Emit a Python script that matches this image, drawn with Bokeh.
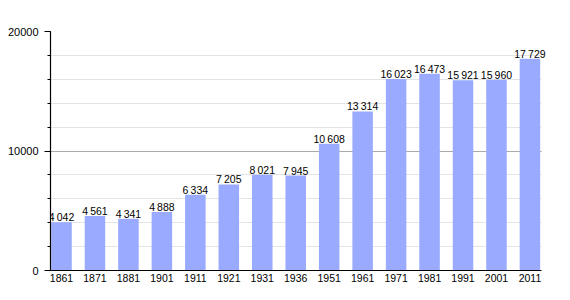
from bokeh.plotting import figure
from bokeh.models import ColumnDataSource, Range1d, FixedTicker, SingleIntervalTicker, LabelSet, Grid
from bokeh.core.properties import value
from bokeh.embed import file_html
from bokeh.resources import INLINE

years = ["1861", "1871", "1881", "1901", "1911", "1921", "1931", "1936",
         "1951", "1961", "1971", "1981", "1991", "2001", "2011"]
population = [4042, 4561, 4341, 4888, 6334, 7205, 8021, 7945,
              10608, 13314, 16023, 16473, 15921, 15960, 17729]

idx = list(range(len(years)))
labels = [f"{v:,}".replace(",", "\u2009") for v in population]
src = ColumnDataSource(dict(x=idx, top=population, label=labels))

FONT = "Liberation Sans"
x_start, x_axis_end, x_end = -0.329, len(years) - 1 + 0.345, len(years) - 1 + 0.495

p = figure(width=570, height=300, output_backend="svg", toolbar_location=None,
           x_range=Range1d(x_start, x_end), y_range=Range1d(0, 20000),
           min_border_left=50, min_border_right=24, min_border_top=31, min_border_bottom=30)
p.outline_line_color = None
p.background_fill_color = "white"
p.border_fill_color = "white"

p.vbar(x="x", top="top", width=0.613, source=src, fill_color="#99aaff", line_color=None)
p.add_layout(LabelSet(x="x", y="top", text="label", source=src, text_align="center",
                      text_baseline="alphabetic", y_offset=1, text_font=value(FONT),
                      text_font_size="10.5px", text_color="black"))

# x axis
p.xaxis.ticker = FixedTicker(ticks=idx)
p.xaxis.major_label_overrides = {i: y for i, y in zip(idx, years)}
p.xaxis.bounds = (x_start, x_axis_end)
p.xaxis.major_tick_line_color = None
p.xaxis.minor_tick_line_color = None
p.xaxis.major_tick_out = 0
p.xaxis.major_tick_in = 0
p.xaxis.minor_tick_out = 0
p.xaxis.axis_line_color = "black"
p.xaxis.axis_line_width = 1.2
p.xaxis.major_label_standoff = 3
p.xaxis.major_label_text_font = FONT
p.xaxis.major_label_text_font_size = "10.5px"
p.xaxis.major_label_text_color = "black"
p.xgrid.grid_line_color = None

# y axis
yt = SingleIntervalTicker(interval=10000, num_minor_ticks=5)
p.yaxis.ticker = yt
p.ygrid.ticker = yt
p.yaxis.axis_line_color = "black"
p.yaxis.axis_line_width = 1.2
p.yaxis.major_tick_in = 0
p.yaxis.major_tick_out = 6
p.yaxis.minor_tick_in = 0
p.yaxis.minor_tick_out = 3
p.yaxis.major_tick_line_color = "black"
p.yaxis.minor_tick_line_color = "black"
p.yaxis.major_label_standoff = 6
p.yaxis.major_label_text_font = FONT
p.yaxis.major_label_text_font_size = "11px"
p.yaxis.major_label_text_color = "black"
p.ygrid.grid_line_color = "#aaaaaa"
p.ygrid.minor_grid_line_color = "#e4e4e4"
if "cross_bounds" in Grid.properties():
    p.ygrid.cross_bounds = (x_start, x_axis_end)

open("out.html", "w").write(file_html(p, INLINE))
